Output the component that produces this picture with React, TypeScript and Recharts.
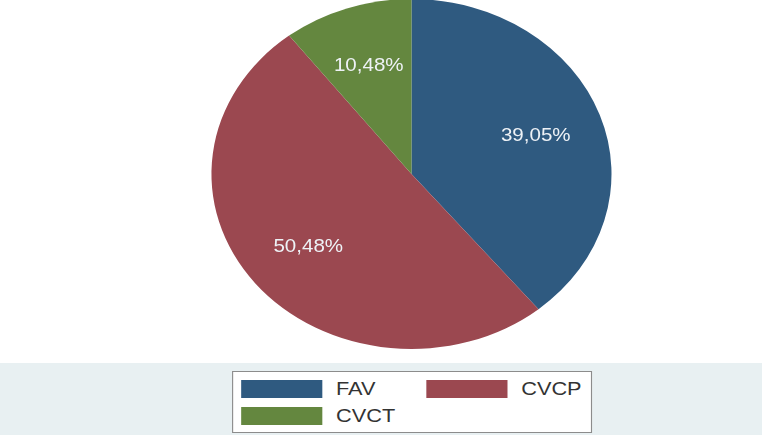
import { PieChart, Pie, Cell, Legend } from "recharts";

const categories = ["FAV", "CVCP", "CVCT"];
const shares = [39.05, 50.48, 10.48];
const COLORS = ["#2f5a80", "#9b4850", "#64873f"];

const data = categories.map((name, i) => ({ name, value: shares[i] }));

// the source image is stretched sideways, so the whole chart is drawn narrower and scaled in x
const STRETCH = 1.143;
const FONT = "'Liberation Sans', Arial, sans-serif";
const RADIAN = Math.PI / 180;

const renderLabel = (props: any) => {
  const { cx, cy, midAngle, outerRadius, value } = props;
  const r = outerRadius * 0.66;
  const x = cx + r * Math.cos(-midAngle * RADIAN);
  const y = cy + r * Math.sin(-midAngle * RADIAN);
  return (
    <text
      x={x}
      y={y}
      fill="#eef2f6"
      fontSize={18}
      fontFamily={FONT}
      textAnchor="middle"
      dominantBaseline="central"
    >
      {`${Number(value).toFixed(2).replace(".", ",")}%`}
    </text>
  );
};

const LegendBox = ({ payload }: any) => {
  const items = [...(payload || [])].sort(
    (a: any, b: any) => categories.indexOf(a.value) - categories.indexOf(b.value)
  );
  return (
    <div
      style={{
        boxSizing: "border-box",
        width: "100%",
        height: "100%",
        background: "#ffffff",
        border: "1px solid #8c8c8c",
        display: "grid",
        gridTemplateColumns: "162px 150px",
        gridAutoRows: "27px",
        padding: "7px 0 0 7px",
        fontFamily: FONT,
        fontSize: 19,
        color: "#333333",
      }}
    >
      {items.map((entry: any) => (
        <div key={entry.value} style={{ display: "flex", alignItems: "center", height: 20 }}>
          <span
            style={{
              display: "inline-block",
              width: 71,
              height: 18,
              background: entry.color,
              marginRight: 12,
            }}
          />
          <span>{entry.value}</span>
        </div>
      ))}
    </div>
  );
};

export default function App() {
  return (
    <div
      style={{
        position: "absolute",
        left: 0,
        top: 0,
        width: 762,
        height: 435,
        background: "#ffffff",
        overflow: "hidden",
      }}
    >
      <div
        style={{
          position: "absolute",
          left: 0,
          top: 363,
          width: 762,
          height: 72,
          background: "#e8f0f2",
        }}
      />
      <div
        style={{
          position: "absolute",
          left: 0,
          top: 0,
          transform: `scaleX(${STRETCH})`,
          transformOrigin: "0 0",
        }}
      >
        <PieChart width={667} height={435} margin={{ top: 0, right: 0, bottom: 0, left: 0 }}>
          <Pie
            data={data}
            dataKey="value"
            nameKey="name"
            cx={360}
            cy={174}
            outerRadius={175}
            startAngle={90}
            endAngle={-270}
            stroke="none"
            label={renderLabel}
            labelLine={false}
            isAnimationActive={false}
          >
            {data.map((_, index) => (
              <Cell key={`cell-${index}`} fill={COLORS[index]} />
            ))}
          </Pie>
          <Legend
            content={<LegendBox />}
            wrapperStyle={{ left: 203, top: 371, width: 315, height: 62, bottom: "auto" }}
          />
        </PieChart>
      </div>
    </div>
  );
}
